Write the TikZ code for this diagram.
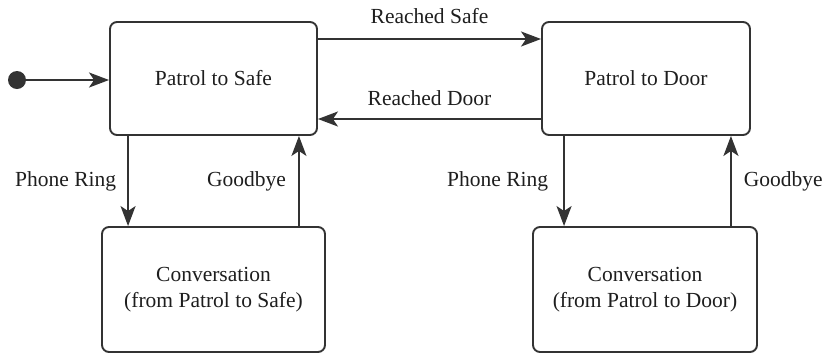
\documentclass[tikz,border=0pt]{standalone}
\usepackage{fontspec}
\setmainfont{Liberation Serif}
\usetikzlibrary{arrows.meta}
\definecolor{ink}{HTML}{333333}
\definecolor{txt}{HTML}{1E1E1E}
\begin{document}
\begin{tikzpicture}[x=1bp,y=-1bp,
  every node/.style={text=txt, font=\fontsize{21.5bp}{25.5bp}\selectfont},
  state/.style={draw=ink, line width=1.9bp, rounded corners=7bp, fill=white,
    align=center, inner sep=0pt},
  arr/.style={draw=ink, line width=1.9bp,
    -{Stealth[length=20bp,width=15bp,inset=5bp]}},
  lbl/.style={inner sep=0pt}]
\useasboundingbox (0,0) rectangle (825,355);

% states
\node[state, minimum width=207bp, minimum height=113bp] (safe) at (213.5,78.5) {Patrol to Safe};
\node[state, minimum width=208bp, minimum height=113bp] (door) at (646,78.5) {Patrol to Door};
\node[state, minimum width=223bp, minimum height=125bp] (convS) at (213.5,289.5)
  {Conversation\\(from Patrol to Safe)};
\node[state, minimum width=224bp, minimum height=125bp] (convD) at (645,289.5)
  {Conversation\\(from Patrol to Door)};

% initial state
\node[circle, fill=ink, minimum size=18bp, inner sep=0pt] (init) at (17,80) {};
\draw[arr] (init) -- (init -| safe.west);

% transitions between the patrol states
\draw[arr] ([yshift=39.5bp]safe.east) -- ([yshift=39.5bp]door.west)
  node[lbl, midway, above=14bp] {Reached Safe};
\draw[arr] ([yshift=-40.5bp]door.east -| door.west) -- ([yshift=-40.5bp]safe.east)
  node[lbl, midway, above=12bp] {Reached Door};

% phone calls on the way to the safe
\draw[arr] ([xshift=19bp]safe.south west) -- ([xshift=19bp]safe.south west |- convS.north)
  node[lbl, midway, left=11bp] {Phone Ring};
\draw[arr] ([xshift=-19bp]safe.south east |- convS.north) -- ([xshift=-19bp]safe.south east)
  node[lbl, midway, left=12bp] {Goodbye};

% phone calls on the way to the door
\draw[arr] ([xshift=23bp]door.south west) -- ([xshift=23bp]door.south west |- convD.north)
  node[lbl, midway, left=15bp] {Phone Ring};
\draw[arr] ([xshift=-20bp]door.south east |- convD.north) -- ([xshift=-20bp]door.south east)
  node[lbl, midway, right=12bp] {Goodbye};
\end{tikzpicture}
\end{document}
